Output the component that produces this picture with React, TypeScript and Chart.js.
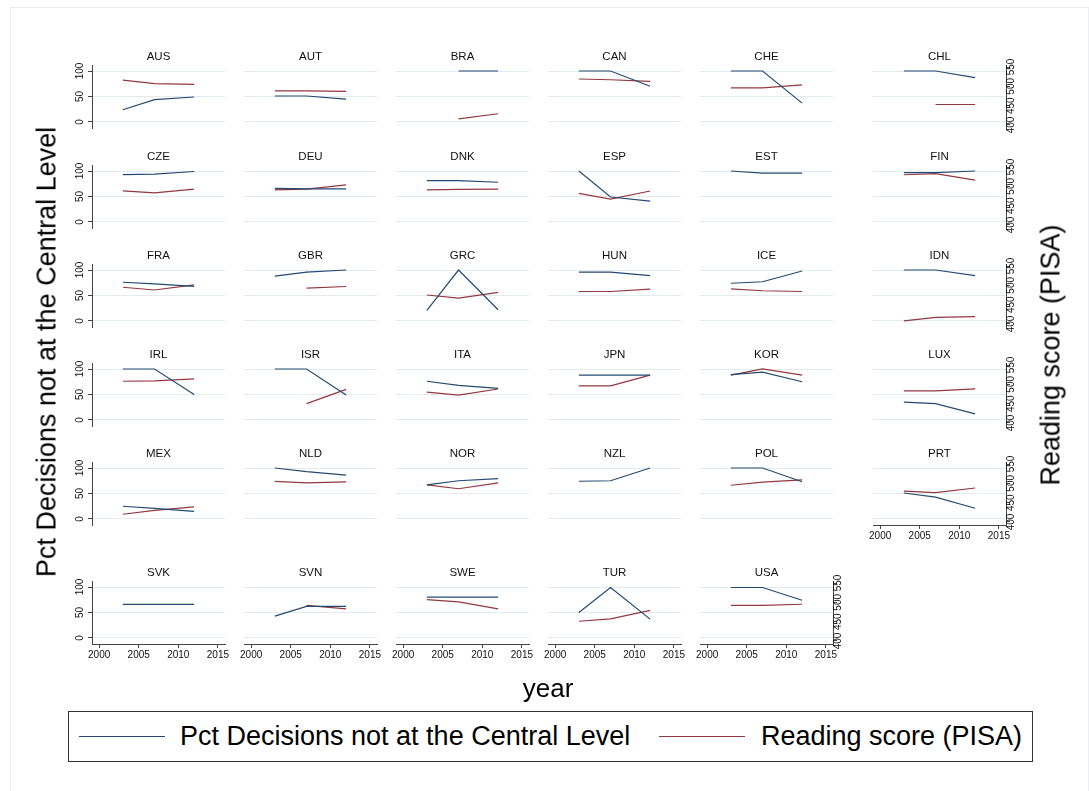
import React, { useEffect, useRef } from "react";
import { Chart, registerables } from "chart.js";

Chart.register(...registerables);

// ---------------- data ----------------
const countries = [
  "AUS", "AUT", "BRA", "CAN", "CHE", "CHL",
  "CZE", "DEU", "DNK", "ESP", "EST", "FIN",
  "FRA", "GBR", "GRC", "HUN", "ICE", "IDN",
  "IRL", "ISR", "ITA", "JPN", "KOR", "LUX",
  "MEX", "NLD", "NOR", "NZL", "POL", "PRT",
  "SVK", "SVN", "SWE", "TUR", "USA",
];
const years = [2003, 2007, 2012];

// Pct Decisions not at the Central Level (left axis)
const pctDecisions: (number | null)[][] = [
  [24, 44, 49], [51, 51, 45], [null, 100, 100], [100, 100, 70], [100, 100, 37], [100, 100, 87],
  [93, 94, 99], [66, 65, 65], [81, 81, 78], [100, 49, 41], [100, 96, 96], [97, 97, 100],
  [76, 73, 68], [88, 96, 100], [21, 100, 22], [96, 96, 89], [74, 77, 98], [100, 100, 89],
  [100, 100, 50], [100, 100, 49], [76, 68, 62], [88, 88, 88], [89, 94, 75], [35, 32, 12],
  [25, 21, 15], [100, 93, 86], [67, 75, 79], [74, 75, 100], [100, 100, 73], [51, 43, 21],
  [66, 66, 66], [43, 62, 62], [80, 80, 80], [50, 99, 37], [99, 99, 74],
];

// Reading score (PISA) (right axis)
const readingScore: (number | null)[][] = [
  [516, 507, 505], [488, 488, 487], [null, 416, 429], [519, 517, 513], [496, 496, 504], [null, 453, 453],
  [488, 483, 493], [491, 493, 504], [491, 492, 493], [482, 467, 488], [null, null, null], [530, 533, 516],
  [495, 488, 501], [null, 493, 497], [475, 467, 482], [484, 484, 490], [491, 486, 484], [408, 417, 419],
  [508, 509, 514], [null, 450, 487], [480, 472, 488], [496, 496, 524], [524, 540, 524], [483, 483, 488],
  [420, 430, 439], [505, 501, 504], [496, 486, 501], [null, null, null], [495, 503, 509], [480, 476, 488],
  [null, null, null], [null, 492, 483], [507, 501, 483], [451, 457, 479], [492, 492, 495],
];

const leftTicks = [0, 50, 100];
const rightTicks = [400, 450, 500, 550];
const yearTicks = [2000, 2005, 2010, 2015];

const seriesLabels = ["Pct Decisions not at the Central Level", "Reading score (PISA)"];

// ---------------- style / layout ----------------
const FONT = "'Liberation Sans', Arial, Helvetica, sans-serif";
const BLUE = "#234a72";
const RED = "#93383f";
const GRID = "#e4ebef";
const AXIS = "#444444";
const TXT = "#111111";
const TICK_SIZE = 10;

const COL_LEFT = [92, 244, 396, 548, 700, 873];
const ROW_TOP = [65, 165, 264, 363, 462, 581];
const PLOT_W = 133;
const PLOT_H = 63;
const M = 16;
const TH = 20;

const N_COLS = 6;

function Panel({ idx }: { idx: number }) {
  const ref = useRef<HTMLCanvasElement | null>(null);
  const row = Math.floor(idx / N_COLS);
  const col = idx % N_COLS;
  const n = countries.length;
  const showLeft = col === 0;
  const showRight = col === N_COLS - 1 || idx === n - 1;
  const showX = idx + N_COLS >= n;
  const LW = showLeft ? 30 : 0;
  const RW = showRight ? 28 : 0;
  const BH = showX ? 24 : 0;
  const width = M + LW + PLOT_W + RW + M;
  const height = M + TH + PLOT_H + BH + M;
  const left = COL_LEFT[col] - LW - M;
  const top = ROW_TOP[row] - TH - M;

  useEffect(() => {
    const canvas = ref.current;
    if (!canvas) return;
    const title = countries[idx];
    const titlePlugin = {
      id: "panelTitle",
      afterDraw(chart: any) {
        const { ctx, chartArea } = chart;
        ctx.save();
        ctx.font = `11.5px ${FONT}`;
        ctx.fillStyle = TXT;
        ctx.textAlign = "center";
        ctx.textBaseline = "middle";
        ctx.fillText(title, (chartArea.left + chartArea.right) / 2, chartArea.top - 8.5);
        ctx.restore();
      },
    };
    const toPts = (vals: (number | null)[]) =>
      years
        .map((y, i) => ({ x: y, y: vals[i] }))
        .filter((p) => p.y !== null && p.y !== undefined);

    const zeroPad = (s: any) => {
      s.paddingLeft = 0;
      s.paddingRight = 0;
      s.paddingTop = 0;
      s.paddingBottom = 0;
    };

    const chart = new Chart(canvas, {
      type: "line",
      data: {
        datasets: [
          {
            label: seriesLabels[0],
            data: toPts(pctDecisions[idx]) as any,
            borderColor: BLUE,
            borderWidth: 1.2,
            pointRadius: 0,
            tension: 0,
            fill: false,
            xAxisID: "x",
            yAxisID: "y",
          },
          {
            label: seriesLabels[1],
            data: toPts(readingScore[idx]) as any,
            borderColor: RED,
            borderWidth: 1.2,
            pointRadius: 0,
            tension: 0,
            fill: false,
            xAxisID: "x",
            yAxisID: "y2",
          },
        ],
      },
      options: {
        animation: false,
        responsive: false,
        events: [],
        layout: { padding: { left: M, right: M, top: M + TH, bottom: M } },
        plugins: {
          legend: { display: false },
          title: { display: false },
          tooltip: { enabled: false },
        },
        scales: {
          x: {
            type: "linear",
            min: 1999.1,
            max: 2015.9,
            display: showX,
            afterBuildTicks: (s: any) => {
              s.ticks = yearTicks.map((v) => ({ value: v }));
            },
            afterFit: (s: any) => {
              s.height = BH;
              zeroPad(s);
            },
            grid: { drawOnChartArea: false, drawTicks: true, tickLength: 4, tickColor: AXIS, tickWidth: 1 },
            border: { display: true, color: AXIS, width: 1 },
            ticks: {
              autoSkip: false,
              maxRotation: 0,
              minRotation: 0,
              padding: 1.5,
              color: TXT,
              font: { family: FONT, size: TICK_SIZE },
              callback: (v: any) => String(v),
            },
          },
          y: {
            type: "linear",
            position: "left",
            min: -11.8,
            max: 111.8,
            afterBuildTicks: (s: any) => {
              s.ticks = leftTicks.map((v) => ({ value: v }));
            },
            afterFit: (s: any) => {
              s.width = LW;
              zeroPad(s);
            },
            grid: {
              color: GRID,
              lineWidth: 1,
              drawTicks: showLeft,
              tickLength: 4,
              tickColor: AXIS,
            },
            border: { display: showLeft, color: AXIS, width: 1 },
            ticks: {
              display: showLeft,
              autoSkip: false,
              minRotation: 90,
              maxRotation: 90,
              crossAlign: "center",
              padding: -0.5,
              color: TXT,
              font: { family: FONT, size: TICK_SIZE },
              callback: (v: any) => String(v),
            },
          },
          y2: {
            type: "linear",
            position: "right",
            min: 392.2,
            max: 555.2,
            display: showRight,
            afterBuildTicks: (s: any) => {
              s.ticks = rightTicks.map((v) => ({ value: v }));
            },
            afterFit: (s: any) => {
              s.width = RW;
              zeroPad(s);
            },
            grid: { drawOnChartArea: false, drawTicks: true, tickLength: 4, tickColor: AXIS },
            border: { display: true, color: AXIS, width: 1 },
            ticks: {
              autoSkip: false,
              minRotation: 90,
              maxRotation: 90,
              crossAlign: "center",
              padding: -7.3,
              color: TXT,
              font: { family: FONT, size: TICK_SIZE },
              callback: (v: any) => String(v),
            },
          },
        },
      } as any,
      plugins: [titlePlugin],
    });
    return () => chart.destroy();
  }, [idx]);

  return (
    <canvas
      ref={ref}
      width={width}
      height={height}
      style={{ position: "absolute", left, top, width, height }}
    />
  );
}

export default function App() {
  const titleStyle: React.CSSProperties = {
    position: "absolute",
    fontFamily: FONT,
    fontSize: 27,
    color: "#000",
    whiteSpace: "nowrap",
    lineHeight: 1,
  };
  return (
    <div
      style={{
        position: "fixed",
        left: 0,
        top: 0,
        width: 1089,
        height: 791,
        background: "#ffffff",
        overflow: "hidden",
      }}
    >
      <div
        style={{
          position: "absolute",
          left: 10,
          top: 7,
          width: 1077,
          height: 820,
          border: "1px solid #e8eef2",
        }}
      />
      {countries.map((c, i) => (
        <Panel key={c} idx={i} />
      ))}
      <div
        style={{
          ...titleStyle,
          left: 47,
          top: 352,
          transform: "translate(-50%, -50%) rotate(-90deg)",
        }}
      >
        {seriesLabels[0]}
      </div>
      <div
        style={{
          ...titleStyle,
          left: 1051,
          top: 355,
          transform: "translate(-50%, -50%) rotate(-90deg)",
        }}
      >
        {seriesLabels[1]}
      </div>
      <div
        style={{
          ...titleStyle,
          fontSize: 26,
          left: 548,
          top: 688,
          transform: "translate(-50%, -50%)",
        }}
      >
        year
      </div>
      <div
        style={{
          position: "absolute",
          left: 68,
          top: 711,
          width: 965,
          height: 51,
          boxSizing: "border-box",
          border: "1.5px solid #333",
          background: "#fff",
        }}
      >
        <div style={{ position: "absolute", left: 10, top: 24, width: 86, height: 0, borderTop: `1.6px solid ${BLUE}` }} />
        <div style={{ ...titleStyle, left: 111, top: 24, transform: "translateY(-50%)" }}>{seriesLabels[0]}</div>
        <div style={{ position: "absolute", left: 590, top: 24, width: 86, height: 0, borderTop: `1.6px solid ${RED}` }} />
        <div style={{ ...titleStyle, left: 692, top: 24, transform: "translateY(-50%)" }}>{seriesLabels[1]}</div>
      </div>
    </div>
  );
}
